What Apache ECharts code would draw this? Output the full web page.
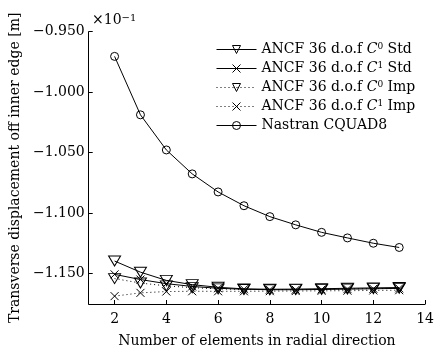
<!DOCTYPE html>
<html>
<head>
<meta charset="utf-8">
<script src="https://cdn.jsdelivr.net/npm/echarts@6/dist/echarts.min.js"></script>
<style>
  html, body { margin: 0; padding: 0; background: #fff; }
  #chart { width: 437px; height: 353px; }
</style>
</head>
<body>
<div id="chart"></div>
<script>
// elements in radial direction
const elements = [2, 3, 4, 5, 6, 7, 8, 9, 10, 11, 12, 13];
// transverse displacement (x10^-1 m)
const c0Std = [-1.1395, -1.1487, -1.1555, -1.1590, -1.1612, -1.1625, -1.1628, -1.1627, -1.1624, -1.1620, -1.1617, -1.1614];
const c1Std = [-1.1505, -1.1548, -1.1582, -1.1605, -1.1620, -1.1628, -1.1632, -1.1632, -1.1630, -1.1627, -1.1624, -1.1621];
const c0Imp = [-1.1540, -1.1577, -1.1600, -1.1615, -1.1625, -1.1630, -1.1632, -1.1631, -1.1629, -1.1626, -1.1623, -1.1620];
const c1Imp = [-1.1685, -1.1658, -1.1647, -1.1645, -1.1645, -1.1645, -1.1644, -1.1643, -1.1641, -1.1640, -1.1638, -1.1636];
const nastran = [-0.9704, -1.0187, -1.0477, -1.0675, -1.0824, -1.0938, -1.1028, -1.1096, -1.1158, -1.1204, -1.1248, -1.1283];
const yTicks = [-1.15, -1.10, -1.05, -1.00, -0.95];
const xTicks = [2, 4, 6, 8, 10, 12, 14];

const FONT = 'DejaVu Serif';
const CROSS = 'path://M0,0L10,10M0,10L10,0';
const DOTS = [1, 3];

function pairs(vals) {
    return elements.map((x, i) => [x, vals[i]]);
}

function makeSeries(name, vals, symbol, size, dotted, rotate) {
    return {
        name: name,
        type: 'line',
        data: pairs(vals),
        symbol: symbol,
        symbolSize: size,
        symbolRotate: rotate || 0,
        showAllSymbol: true,
        lineStyle: { color: '#000', width: 1, type: dotted ? DOTS : 'solid' },
        itemStyle: { color: 'rgba(0,0,0,0)', borderColor: '#000', borderWidth: 1 },
        emphasis: { disabled: true },
        animation: false
    };
}

const legendLabels = {
    'C0 Std': 'ANCF 36 d.o.f {it|C}{sup|0} Std',
    'C1 Std': 'ANCF 36 d.o.f {it|C}{sup|1} Std',
    'C0 Imp': 'ANCF 36 d.o.f {it|C}{sup|0} Imp',
    'C1 Imp': 'ANCF 36 d.o.f {it|C}{sup|1} Imp',
    'Nastran': 'Nastran CQUAD8'
};

const chart = echarts.init(document.getElementById('chart'));
chart.setOption({
    backgroundColor: '#fff',
    animation: false,
    textStyle: { fontFamily: FONT, color: '#000' },
    grid: { left: 88, right: 10, top: 31.7, bottom: 45.3 },
    xAxis: {
        type: 'value',
        min: 1,
        max: 14,
        name: 'Number of elements in radial direction',
        nameLocation: 'middle',
        nameGap: 30,
        nameTextStyle: { fontFamily: FONT, fontSize: 14, color: '#000' },
        axisLine: { lineStyle: { color: '#000', width: 1 } },
        axisTick: { inside: true, length: 4, customValues: xTicks, lineStyle: { color: '#000' } },
        axisLabel: { customValues: xTicks, fontFamily: FONT, fontSize: 14, color: '#000', margin: 8 },
        splitLine: { show: false }
    },
    yAxis: {
        type: 'value',
        min: -1.175,
        max: -0.95,
        name: 'Transverse displacement off inner edge [m]',
        nameLocation: 'middle',
        nameGap: 66,
        nameTextStyle: { fontFamily: FONT, fontSize: 14, color: '#000' },
        axisLine: { show: true, lineStyle: { color: '#000', width: 1 } },
        axisTick: { show: true, inside: true, length: 4, customValues: yTicks, lineStyle: { color: '#000' } },
        axisLabel: {
            customValues: yTicks,
            fontFamily: FONT,
            fontSize: 14,
            color: '#000',
            margin: 4,
            formatter: v => '\u2212' + Math.abs(v).toFixed(3)
        },
        splitLine: { show: false }
    },
    legend: {
        orient: 'vertical',
        left: 211,
        top: 37,
        itemWidth: 40,
        itemHeight: 10,
        itemGap: 4,
        data: [
            { name: 'C0 Std' },
            { name: 'C1 Std' },
            { name: 'C0 Imp', lineStyle: { type: DOTS } },
            { name: 'C1 Imp', lineStyle: { type: DOTS } },
            { name: 'Nastran' }
        ],
        formatter: name => legendLabels[name],
        lineStyle: { width: 1, color: '#000' },
        itemStyle: { borderWidth: 1, borderColor: '#000' },
        textStyle: {
            fontFamily: FONT,
            fontSize: 14,
            color: '#000',
            lineHeight: 15,
            rich: {
                it: { fontFamily: FONT, fontSize: 14, fontStyle: 'italic', color: '#000', lineHeight: 15 },
                sup: { fontFamily: FONT, fontSize: 9, color: '#000', lineHeight: 9, verticalAlign: 'top' }
            }
        }
    },
    graphic: [{
        type: 'text',
        left: 92,
        top: 13,
        style: {
            text: '\u00d710{sup|\u22121}',
            fontFamily: FONT,
            fontSize: 14,
            fill: '#000',
            rich: {
                sup: { fontFamily: FONT, fontSize: 10, fill: '#000', verticalAlign: 'top', lineHeight: 10 }
            }
        }
    }],
    series: [
        makeSeries('C0 Std', c0Std, 'triangle', [12, 10], false, 180),
        makeSeries('C1 Std', c1Std, CROSS, 8, false),
        makeSeries('C0 Imp', c0Imp, 'triangle', [12, 10], true, 180),
        makeSeries('C1 Imp', c1Imp, CROSS, 8, true),
        makeSeries('Nastran', nastran, 'circle', 8, false)
    ]
});
</script>
</body>
</html>
